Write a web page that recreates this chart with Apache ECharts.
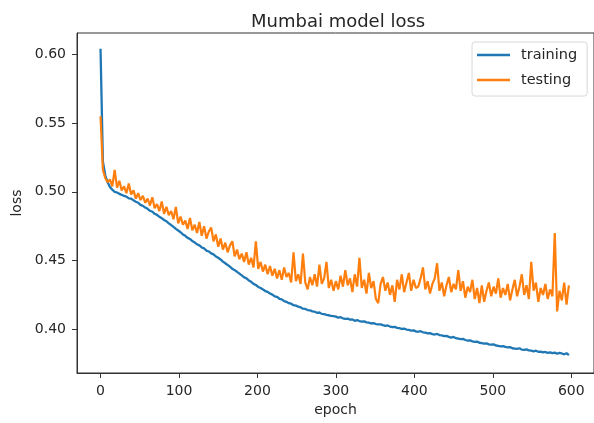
<!DOCTYPE html>
<html>
<head>
<meta charset="utf-8">
<script src="https://cdn.jsdelivr.net/npm/echarts@6/dist/echarts.min.js"></script>
<style>
  html, body { margin: 0; padding: 0; background: #fff; }
  #chart { width: 594px; height: 423px; }
</style>
</head>
<body>
<div id="chart"></div>
<script>
// epochs sampled every 3 steps (0..597)
const epochStep = 3;

// training loss
const trainingLoss = [
  0.604, 0.522, 0.512, 0.507, 0.5035, 0.5015, 0.500, 0.4995, 0.4985, 0.4978,
  0.4970, 0.4965, 0.4952, 0.4950, 0.4938, 0.4928, 0.4920, 0.4905, 0.4898, 0.4885,
  0.4876, 0.4862, 0.4855, 0.4840, 0.4832, 0.4818, 0.4808, 0.4795, 0.4786, 0.4770,
  0.4758, 0.4745, 0.4730, 0.4718, 0.4706, 0.4690, 0.4680, 0.4665, 0.4657, 0.4642,
  0.4632, 0.4618, 0.4610, 0.4595, 0.4588, 0.4572, 0.4566, 0.4552, 0.4545, 0.4530,
  0.4520, 0.4508, 0.4492, 0.4480, 0.4468, 0.4455, 0.4440, 0.4430, 0.4418, 0.4405,
  0.4392, 0.4378, 0.4370, 0.4355, 0.4345, 0.4330, 0.4322, 0.4308, 0.4300, 0.4290,
  0.4278, 0.4272, 0.4260, 0.4252, 0.4240, 0.4236, 0.4222, 0.4218, 0.4205, 0.4200,
  0.4190, 0.4186, 0.4175, 0.4172, 0.4165, 0.4160, 0.4150, 0.4148, 0.4140, 0.4138,
  0.4130, 0.4128, 0.4120, 0.4122, 0.4112, 0.4110, 0.4105, 0.4102, 0.4098, 0.4095,
  0.4092, 0.4085, 0.4088, 0.4080, 0.4076, 0.4078, 0.4070, 0.4072, 0.4062, 0.4066,
  0.4060, 0.4055, 0.4058, 0.4050, 0.4048, 0.4042, 0.4045, 0.4038, 0.4035, 0.4036,
  0.4030, 0.4025, 0.4028, 0.4020, 0.4016, 0.4018, 0.4010, 0.4008, 0.4002, 0.4005,
  0.3998, 0.3995, 0.3990, 0.3992, 0.3985, 0.3982, 0.3986, 0.3978, 0.3975, 0.3970,
  0.3972, 0.3965, 0.3962, 0.3966, 0.3958, 0.3955, 0.3950, 0.3952, 0.3945, 0.3940,
  0.3944, 0.3935, 0.3932, 0.3928, 0.3930, 0.3922, 0.3918, 0.3920, 0.3912, 0.3908,
  0.3910, 0.3902, 0.3900, 0.3896, 0.3898, 0.3890, 0.3888, 0.3890, 0.3882, 0.3880,
  0.3876, 0.3878, 0.3872, 0.3868, 0.3870, 0.3862, 0.3860, 0.3858, 0.3862, 0.3852,
  0.3850, 0.3854, 0.3846, 0.3845, 0.3840, 0.3844, 0.3836, 0.3838, 0.3832, 0.3835,
  0.3828, 0.3832, 0.3826, 0.3830, 0.3822, 0.3828, 0.3824, 0.3818, 0.3826, 0.3812
];

// testing loss
const testingLoss = [
  0.555, 0.516, 0.510, 0.507, 0.509, 0.504, 0.516, 0.503, 0.508, 0.501,
  0.504, 0.499, 0.506, 0.498, 0.501, 0.495, 0.499, 0.494, 0.497, 0.492,
  0.495, 0.490, 0.496, 0.488, 0.491, 0.486, 0.493, 0.484, 0.489, 0.483,
  0.486, 0.480, 0.489, 0.477, 0.482, 0.476, 0.479, 0.473, 0.481, 0.472,
  0.476, 0.470, 0.478, 0.468, 0.475, 0.466, 0.471, 0.474, 0.464, 0.469,
  0.460, 0.466, 0.458, 0.463, 0.456, 0.461, 0.464, 0.453, 0.458, 0.451,
  0.455, 0.449, 0.456, 0.447, 0.452, 0.445, 0.464, 0.444, 0.449, 0.442,
  0.447, 0.440, 0.446, 0.439, 0.444, 0.437, 0.443, 0.436, 0.445, 0.438,
  0.441, 0.434, 0.456, 0.435, 0.440, 0.433, 0.455, 0.434, 0.429, 0.438,
  0.432, 0.440, 0.431, 0.447, 0.433, 0.437, 0.449, 0.430, 0.436, 0.428,
  0.435, 0.429, 0.439, 0.431, 0.443, 0.432, 0.437, 0.427, 0.440, 0.431,
  0.452, 0.430, 0.436, 0.426, 0.441, 0.430, 0.435, 0.422, 0.419, 0.433,
  0.438, 0.428, 0.434, 0.425, 0.432, 0.420, 0.436, 0.429, 0.440, 0.427,
  0.434, 0.441, 0.428, 0.436, 0.430, 0.431, 0.437, 0.445, 0.429, 0.435,
  0.426, 0.433, 0.437, 0.448, 0.428, 0.434, 0.424, 0.432, 0.438, 0.427,
  0.433, 0.429, 0.443, 0.428, 0.435, 0.423, 0.431, 0.427, 0.436, 0.422,
  0.430, 0.419, 0.432, 0.420, 0.428, 0.434, 0.424, 0.431, 0.426, 0.437,
  0.423, 0.430, 0.425, 0.433, 0.421, 0.429, 0.436, 0.424, 0.431, 0.440,
  0.425, 0.432, 0.422, 0.449, 0.428, 0.434, 0.420, 0.430, 0.425, 0.433,
  0.422, 0.429, 0.424, 0.470, 0.413, 0.428, 0.421, 0.434, 0.418, 0.432
];

const xTicks = [0, 100, 200, 300, 400, 500, 600];
const yTicks = [0.40, 0.45, 0.50, 0.55, 0.60];

const chart = echarts.init(document.getElementById('chart'), null, { renderer: 'canvas' });

const font = 'DejaVu Sans';
const textColor = '#262626';

function toPairs(values) {
  return values.map((v, i) => [i * epochStep, v]);
}

const option = {
  animation: false,
  backgroundColor: '#ffffff',
  title: {
    text: 'Mumbai model loss',
    left: 246,
    top: 8,
    textStyle: { fontFamily: font, fontSize: 18, fontWeight: 'normal', color: textColor }
  },
  legend: {
    orient: 'vertical',
    left: 472,
    top: 42,
    padding: [5, 10, 8, 5],
    icon: 'rect',
    itemWidth: 33,
    itemHeight: 2.4,
    itemGap: 9,
    borderColor: '#d8d8d8',
    borderWidth: 1,
    borderRadius: 3,
    backgroundColor: '#fff',
    textStyle: { fontFamily: font, fontSize: 14.5, color: textColor, padding: [0, 0, 0, 6], lineHeight: 16 },
    data: ['training', 'testing']
  },
  grid: {
    left: 77,
    top: 33,
    right: -3,
    bottom: 50,
    show: true,
    borderColor: '#333',
    borderWidth: 1
  },
  xAxis: {
    type: 'value',
    min: -30,
    max: 629,
    name: 'epoch',
    nameLocation: 'middle',
    nameGap: 30,
    nameTextStyle: { fontFamily: font, fontSize: 14, color: textColor },
    axisLine: { show: true, onZero: false, lineStyle: { color: '#333', width: 1 } },
    axisTick: { show: true, length: 5, lineStyle: { color: '#333' }, customValues: xTicks },
    axisLabel: { fontFamily: font, fontSize: 14, color: textColor, margin: 11, customValues: xTicks },
    splitLine: { show: false }
  },
  yAxis: {
    type: 'value',
    min: 0.3682,
    max: 0.6155,
    name: 'loss',
    nameLocation: 'middle',
    nameGap: 52,
    nameTextStyle: { fontFamily: font, fontSize: 14, color: textColor },
    axisLine: { show: true, onZero: false, lineStyle: { color: '#333', width: 1 } },
    axisTick: { show: true, length: 5, lineStyle: { color: '#333' }, customValues: yTicks },
    axisLabel: {
      fontFamily: font, fontSize: 14, color: textColor, margin: 11,
      customValues: yTicks,
      formatter: v => v.toFixed(2)
    },
    splitLine: { show: false }
  },
  series: [
    {
      name: 'training',
      type: 'line',
      data: toPairs(trainingLoss),
      symbol: 'none',
      color: '#1f77b4',
      lineStyle: { width: 2.3, color: '#1f77b4' }
    },
    {
      name: 'testing',
      type: 'line',
      data: toPairs(testingLoss),
      symbol: 'none',
      color: '#ff7f0e',
      lineStyle: { width: 2.2, color: '#ff7f0e' }
    }
  ]
};

chart.setOption(option);
</script>
</body>
</html>
